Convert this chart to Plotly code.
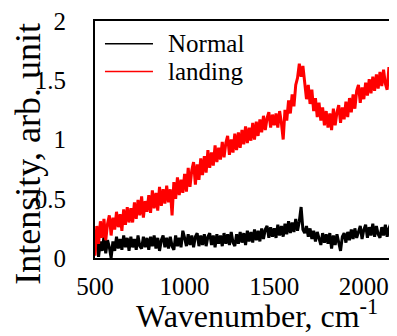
import plotly.graph_objects as go

wavenumber = list(range(500, 2201, 10))

landing = [
    0.02, 0.27, 0.12, 0.31, 0.17, 0.33, 0.15, 0.29, 0.36, 0.19,
    0.34, 0.24, 0.39, 0.26, 0.37, 0.23, 0.41, 0.28, 0.43, 0.30,
    0.42, 0.30, 0.47, 0.33, 0.49, 0.36, 0.52, 0.34, 0.48, 0.39,
    0.53, 0.38, 0.57, 0.42, 0.55, 0.40, 0.60, 0.44, 0.58, 0.46,
    0.61, 0.47, 0.58, 0.36, 0.64, 0.50, 0.68, 0.53, 0.66, 0.55,
    0.71, 0.56, 0.76, 0.60, 0.74, 0.81, 0.62, 0.79, 0.66, 0.84,
    0.70, 0.86, 0.72, 0.91, 0.76, 0.89, 0.78, 0.95, 0.81, 0.93,
    0.83, 0.98, 0.85, 0.97, 1.03, 0.87, 1.00, 0.89, 1.05, 0.91,
    1.06, 0.93, 1.08, 0.96, 1.11, 0.97, 1.10, 0.99, 1.14, 1.00,
    1.15, 1.03, 1.17, 1.06, 1.20, 1.08, 1.18, 1.23, 1.10, 1.21,
    1.12, 1.22, 1.10, 1.24, 1.14, 1.00, 1.25, 1.16, 1.33, 1.22,
    1.38, 1.28, 1.46, 1.52, 1.64, 1.53, 1.62, 1.45, 1.34, 1.46,
    1.30, 1.42, 1.24, 1.35, 1.19, 1.31, 1.16, 1.27, 1.12, 1.24,
    1.10, 1.22, 1.08, 1.26, 1.12, 1.23, 1.29, 1.14, 1.27, 1.17,
    1.32, 1.19, 1.35, 1.23, 1.38, 1.26, 1.41, 1.46, 1.31, 1.44,
    1.34, 1.48, 1.37, 1.51, 1.39, 1.53, 1.41, 1.55, 1.43, 1.57,
    1.45, 1.59, 1.47, 1.42, 1.61, 1.48, 1.60, 1.46, 1.58, 1.50,
    1.57,
]

normal = [
    0.10, 0.17, 0.01, 0.14, 0.06, 0.18, 0.04, 0.15, 0.09, 0.00,
    0.14, 0.06, 0.18, 0.08, 0.16, 0.07, 0.19, 0.09, 0.17, 0.06,
    0.18, 0.09, 0.16, 0.07, 0.19, 0.10, 0.08, 0.18, 0.09, 0.17,
    0.07, 0.18, 0.10, 0.19, 0.08, 0.17, 0.06, 0.15, 0.19, 0.09,
    0.17, 0.08, 0.18, 0.10, 0.07, 0.19, 0.10, 0.17, 0.09, 0.23,
    0.17, 0.10, 0.20, 0.11, 0.19, 0.09, 0.18, 0.21, 0.10, 0.19,
    0.11, 0.20, 0.10, 0.18, 0.21, 0.11, 0.19, 0.09, 0.20, 0.12,
    0.19, 0.10, 0.21, 0.12, 0.20, 0.11, 0.22, 0.13, 0.10, 0.20,
    0.12, 0.22, 0.13, 0.21, 0.11, 0.23, 0.14, 0.22, 0.13, 0.24,
    0.15, 0.23, 0.14, 0.25, 0.16, 0.24, 0.27, 0.17, 0.26, 0.18,
    0.25, 0.17, 0.28, 0.19, 0.27, 0.18, 0.29, 0.20, 0.31, 0.21,
    0.30, 0.22, 0.33, 0.23, 0.31, 0.43, 0.24, 0.21, 0.27, 0.18,
    0.25, 0.16, 0.23, 0.14, 0.22, 0.15, 0.11, 0.21, 0.13, 0.20,
    0.12, 0.21, 0.08, 0.19, 0.11, 0.20, 0.13, 0.06, 0.18, 0.21,
    0.13, 0.22, 0.15, 0.24, 0.16, 0.25, 0.17, 0.23, 0.27, 0.16,
    0.24, 0.28, 0.17, 0.26, 0.19, 0.29, 0.18, 0.27, 0.20, 0.17,
    0.26, 0.19, 0.28, 0.18, 0.25, 0.29, 0.19, 0.26, 0.18, 0.25,
    0.22,
]

series_names = ["Normal", "landing"]
series_colors = ["#000000", "#ff0000"]
x_ticks = [500, 1000, 1500, 2000]
y_ticks = [0, 0.5, 1, 1.5, 2]
y_tick_labels = ["0", "0.5", "1", "1.5", "2"]

FONT = "Liberation Serif"

fig = go.Figure()
fig.add_trace(go.Scatter(x=wavenumber, y=normal, mode="lines", name=series_names[0],
                         line=dict(color=series_colors[0], width=3)))
fig.add_trace(go.Scatter(x=wavenumber, y=landing, mode="lines", name=series_names[1],
                         line=dict(color=series_colors[1], width=3)))

# manual legend (line samples + labels)
leg_y = [0.904, 0.787]
for name, col, yy in zip(series_names, series_colors, leg_y):
    fig.add_shape(type="line", xref="paper", yref="paper", x0=0.033, x1=0.192,
                  y0=yy, y1=yy, line=dict(color=col, width=1.3))
    fig.add_annotation(text=name, xref="paper", yref="paper", x=0.235, y=yy,
                       xanchor="left", yanchor="middle", showarrow=False,
                       font=dict(family=FONT, size=25, color="#000000"))

# axis titles
fig.add_annotation(text="Intensity, arb. unit", xref="paper", yref="paper",
                   x=-0.222, y=0.44, textangle=-90, xanchor="center", yanchor="middle",
                   showarrow=False, font=dict(family=FONT, size=36, color="#000000"))
fig.add_annotation(text="Wavenumber, cm<sup>-1</sup>", xref="paper", yref="paper",
                   x=0.538, y=-0.236, xanchor="center", yanchor="middle",
                   showarrow=False, font=dict(family=FONT, size=32, color="#000000"))

# the page adds an 8px body margin, so the figure is sized/offset to compensate
fig.update_layout(
    width=389, height=328,
    margin=dict(l=87, r=0, t=11, b=78),
    paper_bgcolor="white", plot_bgcolor="white",
    showlegend=False,
    font=dict(family=FONT, size=25, color="#000000"),
)
fig.update_xaxes(range=[500, 2185], tickvals=x_ticks, showgrid=False, zeroline=False,
                 showline=True, linecolor="#000000", linewidth=2, mirror=True,
                 ticks="", ticklabelstandoff=5, ticklabeloverflow="allow",
                 tickfont=dict(family=FONT, size=25, color="#000000"))
fig.update_yaxes(range=[0, 2], tickvals=y_ticks, ticktext=y_tick_labels, showgrid=False,
                 zeroline=False, showline=True, linecolor="#000000", linewidth=2,
                 ticks="", ticklabelstandoff=22, ticklabeloverflow="allow",
                 tickfont=dict(family=FONT, size=25, color="#000000"))

fig.write_html("out.html")
